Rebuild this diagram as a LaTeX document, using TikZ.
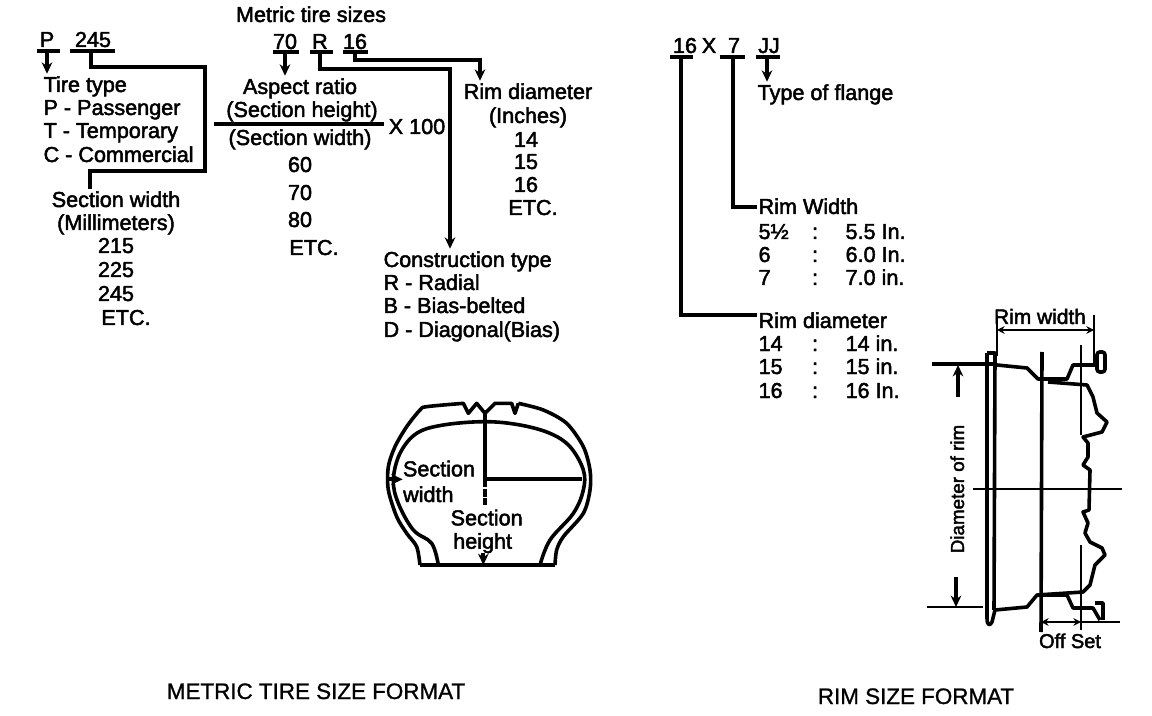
\documentclass[tikz,border=0pt]{standalone}
\usepackage{fontspec}
\setmainfont[FakeBold=2.2]{Liberation Sans}
\newfontfamily\capfont[FakeBold=1]{Liberation Sans}
\usepackage{xcolor}
\definecolor{cInk}{HTML}{000000}
\usetikzlibrary{positioning,arrows.meta,calc}
\tikzset{
  node-text/.style={inner sep=1pt,text height=12.5pt,text depth=2pt,text=cInk,font=\fontsize{16.2}{18}\selectfont},
  node-left/.style={node-text,anchor=west},
  node-cap/.style={node-text,font=\capfont\fontsize{16.8}{18}\selectfont},
  bar/.style={draw=cInk,line width=2.6pt},
  lead/.style={draw=cInk,line width=3pt},
  arrow/.style={-{Stealth[length=3mm,width=2.8mm]},line width=2.8pt,draw=cInk},
  outline/.style={draw=cInk,line width=2.7pt,line join=round},
  thin-line/.style={draw=cInk,line width=2pt},
  dim/.style={{Stealth[length=2mm,width=2mm]}-{Stealth[length=2mm,width=2mm]},draw=cInk,line width=2pt},
}
\begin{document}
\begin{tikzpicture}[x=0.75pt,y=-0.75pt]
  \useasboundingbox[fill=white] (0,0) rectangle (1152,716);
  % metric size code
  \node[node-text] (title-metric) at (311,15) {Metric tire sizes};
  \node[node-text] (code-p) at (47,40) {P};
  \node[node-text] (code-245) at (93,40) {245};
  \node[node-text] (code-70) at (285,42) {70};
  \node[node-text] (code-r) at (320,42) {R};
  \node[node-text] (code-16) at (355,42) {16};
  \coordinate (bar-p) at (47,51);
  \coordinate (bar-245) at (91,51);
  \coordinate (bar-70) at (285,52);
  \coordinate (bar-r) at (320,52);
  \coordinate (bar-16) at (355,52);
  \draw[bar] ($(bar-p)+(-10,0)$) -- ($(bar-p)+(13,0)$);
  \draw[bar] ($(bar-245)+(-21,0)$) -- ($(bar-245)+(24,0)$);
  \draw[bar] ($(bar-70)+(-12,0)$) -- ($(bar-70)+(14,0)$);
  \draw[bar] ($(bar-r)+(-10,0)$) -- ($(bar-r)+(13,0)$);
  \draw[bar] ($(bar-16)+(-12,0)$) -- ($(bar-16)+(13,0)$);
  % tire type
  \node[node-left] (type-head) at (42,85) {Tire type};
  \node[node-left] (type-p) at (42,108) {P - Passenger};
  \node[node-left] (type-t) at (42,131) {T - Temporary};
  \node[node-left] (type-c) at (42,155) {C - Commercial};
  % section width
  \node[node-text] (width-head) at (116,200) {Section width};
  \node[node-text] (width-unit) at (116,223) {(Millimeters)};
  \node[node-text] (width-215) at (116,246) {215};
  \node[node-text] (width-225) at (116,270) {225};
  \node[node-text] (width-245) at (116,294) {245};
  \node[node-text] (width-etc) at (126,318) {ETC.};
  % aspect ratio
  \node[node-text] (ratio-head) at (300,87) {Aspect ratio};
  \node[node-text] (ratio-top) at (302,110) {(Section height)};
  \node[node-text] (ratio-bot) at (300,138) {(Section width)};
  \node[node-text] (ratio-x) at (417,127) {X 100};
  \node[node-text] (ratio-60) at (300,165) {60};
  \node[node-text] (ratio-70) at (300,193) {70};
  \node[node-text] (ratio-80) at (300,220) {80};
  \node[node-text] (ratio-etc) at (314,248) {ETC.};
  \coordinate (frac-l) at (214,124);
  \coordinate (frac-r) at (384,124);
  \draw[bar] (frac-l) -- (frac-r);
  % rim diameter inches
  \node[node-text] (dia-head) at (528,92) {Rim diameter};
  \node[node-text] (dia-unit) at (528,116) {(Inches)};
  \node[node-text] (dia-14) at (526,140) {14};
  \node[node-text] (dia-15) at (526,162) {15};
  \node[node-text] (dia-16) at (526,185) {16};
  \node[node-text] (dia-etc) at (533,208) {ETC.};
  % construction
  \node[node-left] (cons-head) at (382,260) {Construction type};
  \node[node-left] (cons-r) at (382,283) {R - Radial};
  \node[node-left] (cons-b) at (382,306) {B - Bias-belted};
  \node[node-left] (cons-d) at (382,330) {D - Diagonal(Bias)};
  % leaders
  \coordinate (turn-245) at (205,67);
  \coordinate (turn-width) at (90,171);
  \coordinate (turn-r) at (450,69);
  \coordinate (turn-16) at (480,60);
  \draw[arrow] (bar-p) -- (bar-p |- type-head.north);
  \draw[lead] (bar-245) |- (turn-245) |- (turn-width) -- (turn-width |- width-head.north);
  \draw[arrow] (bar-70) -- (bar-70 |- ratio-head.north);
  \draw[arrow,line width=3pt] (bar-r) |- (turn-r) -- (turn-r |- cons-head.north);
  \draw[arrow] (bar-16) |- (turn-16) -- (turn-16 |- dia-head.north);
  % rim size code
  \node[node-text] (rim-16) at (685,46) {16};
  \node[node-text] (rim-x) at (709,46) {X};
  \node[node-text] (rim-7) at (734,46) {7};
  \node[node-text] (rim-jj) at (769,46) {JJ};
  \coordinate (bar-rim-16) at (681,57);
  \coordinate (bar-rim-7) at (733,57);
  \coordinate (bar-rim-jj) at (767,57);
  \draw[bar] ($(bar-rim-16)+(-11,0)$) -- ($(bar-rim-16)+(12,0)$);
  \draw[bar] ($(bar-rim-7)+(-13,0)$) -- ($(bar-rim-7)+(12,0)$);
  \draw[bar] ($(bar-rim-jj)+(-11,0)$) -- ($(bar-rim-jj)+(13,0)$);
  \node[node-left] (flange) at (756,93) {Type of flange};
  \node[node-left] (rw-head) at (757,207) {Rim Width};
  \node[node-left] (rw-a1) at (757,232) {5\textonehalf};
  \node[node-text] (rw-a2) at (815,232) {:};
  \node[node-left] (rw-a3) at (844,232) {5.5 In.};
  \node[node-left] (rw-b1) at (757,255) {6};
  \node[node-text] (rw-b2) at (815,255) {:};
  \node[node-left] (rw-b3) at (844,255) {6.0 In.};
  \node[node-left] (rw-c1) at (757,278) {7};
  \node[node-text] (rw-c2) at (815,278) {:};
  \node[node-left] (rw-c3) at (844,278) {7.0 in.};
  \node[node-left] (rd-head) at (757,321) {Rim diameter};
  \node[node-left] (rd-a1) at (757,344) {14};
  \node[node-text] (rd-a2) at (815,344) {:};
  \node[node-left] (rd-a3) at (844,344) {14 in.};
  \node[node-left] (rd-b1) at (757,367) {15};
  \node[node-text] (rd-b2) at (815,367) {:};
  \node[node-left] (rd-b3) at (844,367) {15 in.};
  \node[node-left] (rd-c1) at (757,391) {16};
  \node[node-text] (rd-c2) at (815,391) {:};
  \node[node-left] (rd-c3) at (844,391) {16 In.};
  \draw[arrow] (bar-rim-jj) -- (bar-rim-jj |- flange.north);
  \draw[lead] (bar-rim-7) |- (rw-head.west);
  \draw[lead] (bar-rim-16) |- ($(rd-head.west)+(0,-6)$);
  % tire section
  \begin{scope}[shift={(370,390)},scale=1/3]
    \draw[outline] plot[smooth,tension=.5] coordinates {(150,525) (140,470) (110,430) (80,380) (55,300) (55,230) (75,170) (110,110) (150,60) (170,50) (280,40)}
      -- (295,70) -- (320,40) -- (345,70) -- (375,40) -- (425,40) -- (435,70) -- (445,40);
    \draw[outline] plot[smooth,tension=.5] coordinates {(445,40) (520,60) (590,100) (640,170) (660,240) (660,300) (640,370) (580,440) (560,480) (555,525)};
    \draw[outline] plot[smooth,tension=.6] coordinates {(205,525) (185,460) (130,420) (85,340) (70,270) (90,190) (140,130) (220,105) (345,95) (450,105) (540,130) (600,170) (640,240) (640,300) (610,370) (540,450) (510,525)};
    \draw[outline,line width=2.8pt] (150,525) -- (555,525);
    \draw[lead] (345,60) -- (345,268) -- (635,268);
    \draw[lead,dash pattern=on 6pt off 1pt] (345,268) -- (345,345);
    \draw[arrow] (55,268) -- (98,268);
    \draw[arrow] (340,490) -- (340,525);
    \node[node-text] (sec-w1) at (207,238) {Section};
    \node[node-text] (sec-w2) at (175,315) {width};
    \node[node-text] (sec-h1) at (350,385) {Section};
    \node[node-text] (sec-h2) at (338,455) {height};
  \end{scope}
  % rim section
  \node[node-text,font=\fontsize{15.7}{18}\selectfont] (rim-width) at (1040,317) {Rim width};
  \node[node-text,font=\fontsize{14.1}{15}\selectfont,rotate=90] (rim-dia) at (957,489) {Diameter of rim};
  \node[node-text,font=\fontsize{15}{15}\selectfont] (off-set) at (1070,641) {Off Set};
  \coordinate (rw-l) at (997,330);
  \coordinate (rw-r) at (1094,330);
  \draw[dim] (rw-l) -- (rw-r);
  \draw[thin-line] (997,315) -- (997,356);
  \draw[thin-line] (1094,315) -- (1094,365);
  \draw[lead] (932,364) -- (995,364);
  \draw[thin-line] (927,607) -- (983,607);
  \draw[arrow] (958,397) -- (958,365);
  \draw[arrow] (956,577) -- (956,607);
  \draw[thin-line] (973,489) -- (1122,489);
  \draw[outline] (987,353) -- (995,353) -- (994,610);
  \draw[outline] (987,353) -- (987,618) .. controls (987,626) and (990,626) .. (992,622) -- (995,610);
  \draw[outline] (997,365) -- (1027,368) -- (1038,379) -- (1067,379) -- (1073,365) -- (1097,365);
  \draw[outline,rounded corners=2pt] (1097,352) rectangle (1105,372);
  \draw[outline] (1048,382) -- (1087,385) -- (1093,397) -- (1097,413) -- (1107,422) -- (1102,432) -- (1083,437) -- (1088,443) -- (1088,457) -- (1083,465) -- (1090,470) -- (1089,510) -- (1083,512) -- (1088,523) -- (1085,533) -- (1090,542) -- (1102,548) -- (1105,555) -- (1095,565) -- (1090,585) -- (1083,592) -- (1037,595);
  \draw[outline] (995,610) -- (1027,607) -- (1037,595) -- (1067,595) -- (1073,608) -- (1093,608) -- (1100,620);
  \draw[outline] (1095,603) -- (1103,603) -- (1103,620);
  \draw[outline] (1042,352) -- (1041,632);
  \draw[thin-line] (1081,345) -- (1081,435);
  \draw[thin-line] (1081,545) -- (1081,630);
  \coordinate (os-l) at (1041,622);
  \coordinate (os-m) at (1081,622);
  \coordinate (os-r) at (1120,622);
  \draw[dim] (os-l) -- (os-m);
  \draw[thin-line] (os-m) -- (os-r);
  % captions
  \node[node-cap] (cap-metric) at (316,692) {METRIC TIRE SIZE FORMAT};
  \node[node-cap] (cap-rim) at (916,697) {RIM SIZE FORMAT};
\end{tikzpicture}
\end{document}
